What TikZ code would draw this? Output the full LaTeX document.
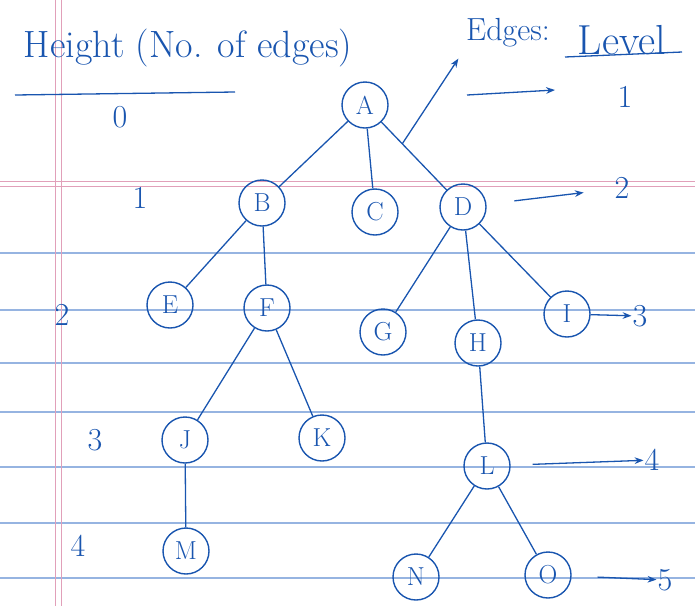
\documentclass[tikz,border=0pt]{standalone}
\usepackage{tikz}
\usetikzlibrary{positioning, arrows.meta}

\definecolor{ink}{RGB}{25,85,175}
\definecolor{ruling}{RGB}{150,180,225}
\definecolor{margin}{RGB}{225,160,185}

\begin{document}
\begin{tikzpicture}[
    x=1pt, y=-1pt,
    vertex/.style={
        draw=ink,
        circle,
        line width=1.4pt,
        minimum size=46pt,
        inner sep=0pt,
        text=ink,
        font=\fontsize{26}{28}\selectfont
    },
    edge/.style={ink, line width=1.3pt},
    arrow/.style={-Stealth, ink, line width=1.3pt},
    lbl/.style={text=ink, inner sep=1pt, font=\fontsize{32}{34}\selectfont}
]

\useasboundingbox (0,0) rectangle (695,606);

% the ruled paper
\foreach \y in {253,310,363,412,467,523,578}
    \draw[ruling, line width=1.2pt] (0,\y) -- (695,\y);
\draw[margin, line width=1pt] (0,181) -- (695,181);
\draw[margin, line width=1pt] (0,186) -- (695,186);
\draw[margin, line width=0.8pt] (55,0) -- (55,606);
\draw[margin, line width=0.8pt] (61,0) -- (61,606);

% headings
\node[lbl, font=\fontsize{38}{40}\selectfont] (height) at (188,48) {Height (No. of edges)};
\node[lbl, font=\fontsize{32}{34}\selectfont] (edgestxt) at (508,33) {Edges:};
\node[lbl, font=\fontsize{42}{44}\selectfont] (level) at (622,40) {Level};
\draw[ink, line width=1.3pt] (15,95) -- (235,92);
\draw[ink, line width=1.3pt] (565,57) -- (682,52);

% heights
\node[lbl] (h0) at (120,117) {0};
\node[lbl] (h1) at (140,198) {1};
\node[lbl] (h2) at (62,315) {2};
\node[lbl] (h3) at (95,440) {3};
\node[lbl] (h4) at (78,546) {4};

% levels
\node[lbl] (lv1) at (625,97) {1};
\node[lbl] (lv2) at (622,188) {2};
\node[lbl] (lv3) at (640,316) {3};
\node[lbl] (lv4) at (652,460) {4};
\node[lbl] (lv5) at (665,580) {5};

% tree
\node[vertex] (A) at (365,105) {A};
\node[vertex] (B) at (262,203) {B};
\node[vertex] (C) at (375,212) {C};
\node[vertex] (D) at (463,207) {D};
\node[vertex] (E) at (170,305) {E};
\node[vertex] (F) at (267,308) {F};
\node[vertex] (G) at (383,332) {G};
\node[vertex] (H) at (478,343) {H};
\node[vertex] (I) at (567,314) {I};
\node[vertex] (J) at (185,440) {J};
\node[vertex] (K) at (322,438) {K};
\node[vertex] (L) at (487,466) {L};
\node[vertex] (M) at (186,551) {M};
\node[vertex] (N) at (416,577) {N};
\node[vertex] (O) at (548,575) {O};

\draw[edge] (A) -- (B);
\draw[edge] (A) -- (C);
\draw[edge] (A) -- (D);
\draw[edge] (B) -- (E);
\draw[edge] (B) -- (F);
\draw[edge] (D) -- (G);
\draw[edge] (D) -- (H);
\draw[edge] (D) -- (I);
\draw[edge] (F) -- (J);
\draw[edge] (F) -- (K);
\draw[edge] (J) -- (M);
\draw[edge] (H) -- (L);
\draw[edge] (L) -- (N);
\draw[edge] (L) -- (O);

% pointers
\path (A) -- (D) coordinate[pos=0.32] (ad);
\draw[arrow, shorten >=12pt] (ad) -- (edgestxt.south west);
\coordinate (lvstart) at (467,95);
\coordinate (lvend) at (555,90);
\draw[arrow] (lvstart) -- (lvend);
\draw[arrow, shorten <=28pt, shorten >=30pt] (D) -- (lv2);
\draw[arrow] (I) -- (lv3);
\draw[arrow, shorten <=22pt] (L) -- (lv4);
\draw[arrow, shorten <=26pt] (O) -- (lv5);

\end{tikzpicture}
\end{document}
